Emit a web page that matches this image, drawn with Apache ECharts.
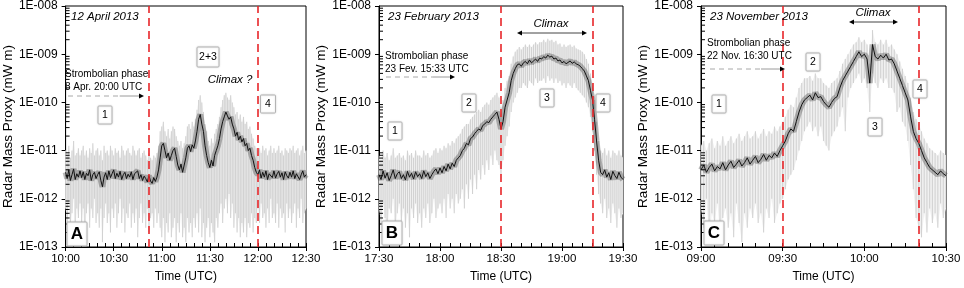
<!DOCTYPE html>
<html>
<head>
<meta charset="utf-8">
<title>Radar Mass Proxy</title>
<script src="https://cdn.jsdelivr.net/npm/echarts@6/dist/echarts.min.js"></script>
<style>
html,body{margin:0;padding:0;background:#fff;}
#main{width:964px;height:288px;}
</style>
</head>
<body>
<div id="main"></div>
<script>
// all values are log10 of the radar mass proxy (mW m), one per minute from the panel start
var FONT = '"Liberation Sans", Arial, sans-serif';

var startA = 10 * 60;   // 10:00
var midA = [-11.45,-11.58,-11.40,-11.62,-11.50,-11.38,-11.60,-11.48,-11.55,-11.42,
  -11.56,-11.44,-11.60,-11.47,-11.52,-11.40,-11.62,-11.50,-11.45,-11.58,
  -11.50,-11.44,-11.62,-11.75,-11.55,-11.46,-11.60,-11.42,-11.56,-11.48,
  -11.40,-11.58,-11.47,-11.55,-11.43,-11.60,-11.50,-11.45,-11.58,-11.49,
  -11.55,-11.44,-11.60,-11.48,-11.52,-11.42,-11.58,-11.50,-11.62,-11.53,
  -11.58,-11.65,-11.52,-11.63,-11.68,-11.56,-11.64,-11.55,-11.40,-11.15,
  -10.90,-10.85,-11.00,-11.15,-11.05,-11.20,-11.10,-11.00,-10.95,-11.12,
  -11.30,-11.40,-11.28,-11.45,-11.30,-11.15,-10.95,-10.90,-11.02,-10.88,
  -10.95,-10.80,-10.60,-10.35,-10.25,-10.45,-10.60,-10.90,-11.10,-11.25,
  -11.35,-11.20,-11.32,-11.10,-11.00,-10.90,-10.75,-10.55,-10.40,-10.30,
  -10.20,-10.28,-10.35,-10.30,-10.45,-10.55,-10.70,-10.62,-10.78,-10.70,
  -10.82,-10.75,-10.90,-10.85,-11.00,-10.95,-11.10,-11.20,-11.35,-11.45,
  -11.50,-11.40,-11.57,-11.45,-11.55,-11.42,-11.60,-11.48,-11.44,-11.56,
  -11.42,-11.57,-11.48,-11.43,-11.55,-11.46,-11.60,-11.44,-11.52,-11.57,
  -11.45,-11.55,-11.42,-11.58,-11.48,-11.45,-11.60,-11.50,-11.42,-11.55,-11.50];
var loA = [-12.2,-12.5,-12.1,-12.6,-12.3,-12.0,-12.7,-12.2,-12.4,-12.1,
  -12.5,-12.2,-12.8,-12.3,-12.1,-12.6,-12.2,-12.4,-12.0,-12.5,
  -12.3,-12.6,-12.2,-12.9,-12.4,-12.1,-12.5,-12.3,-12.7,-12.2,
  -12.4,-12.1,-12.6,-12.3,-12.0,-12.5,-12.2,-12.7,-12.3,-12.4,
  -12.1,-12.6,-12.3,-12.5,-12.2,-12.8,-12.4,-12.1,-12.5,-12.3,
  -12.6,-12.2,-12.7,-12.4,-12.3,-12.6,-12.2,-12.5,-12.3,-12.6,
  -12.8,-12.4,-12.9,-12.5,-12.7,-12.3,-12.8,-12.6,-12.4,-12.9,
  -12.5,-12.7,-12.3,-12.8,-12.6,-12.9,-12.4,-12.7,-12.5,-12.8,
  -12.4,-12.6,-12.3,-12.7,-12.2,-12.8,-12.5,-12.9,-12.6,-12.4,
  -12.8,-12.5,-12.7,-12.9,-12.4,-12.6,-12.3,-12.1,-12.5,-12.2,
  -12.0,-12.3,-11.9,-12.4,-12.1,-12.6,-12.3,-12.7,-12.4,-12.8,
  -12.5,-12.7,-12.4,-12.8,-12.5,-12.6,-12.3,-12.7,-12.4,-12.5,
  -12.2,-12.5,-12.1,-12.4,-12.3,-12.6,-12.2,-12.5,-12.0,-12.4,
  -12.3,-12.5,-12.1,-12.6,-12.2,-12.4,-12.3,-12.7,-12.1,-12.4,
  -12.2,-12.5,-12.3,-12.1,-12.6,-12.2,-12.4,-12.0,-12.5,-12.3,-12.2];
var hiA = [-11.0,-11.1,-10.9,-11.15,-11.0,-10.8,-11.1,-11.05,-10.95,-11.1,
  -11.0,-10.9,-11.1,-11.0,-11.15,-10.95,-11.05,-10.85,-11.1,-11.0,
  -10.95,-11.1,-11.0,-11.2,-10.9,-11.05,-11.0,-11.1,-10.9,-11.0,
  -11.1,-10.95,-11.05,-11.0,-11.15,-10.9,-11.0,-11.1,-11.0,-10.95,
  -11.05,-11.1,-10.9,-11.0,-11.1,-11.0,-10.95,-11.15,-11.05,-11.0,
  -11.1,-11.2,-11.05,-11.15,-11.2,-11.1,-11.15,-11.05,-10.9,-10.6,
  -10.5,-10.4,-10.6,-10.7,-10.55,-10.75,-10.6,-10.5,-10.55,-10.7,
  -10.8,-10.9,-10.8,-10.95,-10.85,-10.7,-10.5,-10.45,-10.55,-10.4,
  -10.5,-10.35,-10.15,-9.95,-9.85,-10.0,-10.2,-10.45,-10.6,-10.8,
  -10.9,-10.75,-10.85,-10.65,-10.55,-10.45,-10.3,-10.1,-9.95,-9.85,
  -9.8,-9.9,-9.95,-9.85,-10.0,-10.1,-10.25,-10.2,-10.35,-10.25,
  -10.4,-10.3,-10.45,-10.4,-10.55,-10.5,-10.65,-10.75,-10.9,-10.95,
  -11.0,-10.95,-11.05,-10.9,-11.0,-10.95,-11.1,-11.0,-10.9,-11.05,
  -10.95,-11.05,-11.0,-10.9,-11.05,-11.0,-11.1,-10.95,-11.0,-11.05,
  -10.95,-11.0,-10.9,-11.05,-11.0,-10.95,-11.1,-11.0,-10.9,-11.05,-11.0];
var phaseA = [52, 120];

var startB = 17 * 60 + 30;   // 17:30
var midB = [-11.50,-11.60,-11.42,-11.57,-11.46,-11.62,-11.52,-11.40,-11.58,-11.48,
  -11.44,-11.58,-11.50,-11.61,-11.43,-11.55,-11.47,-11.59,-11.44,-11.54,
  -11.48,-11.58,-11.42,-11.54,-11.46,-11.58,-11.50,-11.43,-11.38,-11.48,
  -11.36,-11.46,-11.33,-11.42,-11.28,-11.38,-11.26,-11.33,-11.20,-11.15,
  -11.10,-11.00,-10.95,-10.85,-10.88,-10.75,-10.72,-10.65,-10.60,-10.55,
  -10.58,-10.48,-10.45,-10.40,-10.42,-10.35,-10.30,-10.25,-10.20,-10.35,
  -10.55,-10.40,-10.10,-9.95,-9.80,-9.55,-9.40,-9.30,-9.22,-9.20,
  -9.25,-9.18,-9.15,-9.20,-9.12,-9.18,-9.14,-9.10,-9.15,-9.08,
  -9.10,-9.05,-9.08,-9.02,-9.06,-9.04,-9.10,-9.08,-9.14,-9.12,
  -9.18,-9.15,-9.20,-9.17,-9.14,-9.19,-9.16,-9.20,-9.22,-9.25,
  -9.30,-9.35,-9.45,-9.55,-9.75,-9.95,-10.35,-10.80,-11.20,-11.45,
  -11.50,-11.40,-11.55,-11.46,-11.60,-11.43,-11.52,-11.58,-11.45,-11.55,-11.60];
var loB = [-12.2,-12.5,-12.1,-12.4,-12.7,-12.2,-12.3,-12.0,-12.6,-12.3,
  -12.1,-12.5,-12.2,-12.6,-12.3,-12.8,-12.2,-12.4,-12.1,-12.5,
  -12.3,-12.6,-12.2,-12.4,-12.1,-12.5,-12.3,-12.0,-12.4,-12.2,
  -12.1,-12.3,-12.0,-12.4,-11.9,-12.2,-12.0,-12.3,-11.9,-12.1,
  -12.0,-11.8,-12.2,-11.7,-12.0,-11.6,-11.9,-11.5,-11.8,-11.4,
  -11.6,-11.3,-11.5,-11.2,-11.4,-11.1,-11.3,-11.0,-11.2,-11.3,
  -11.5,-11.2,-10.9,-10.7,-10.5,-10.2,-10.0,-9.9,-9.8,-9.7,
  -9.7,-9.6,-9.65,-9.7,-9.55,-9.6,-9.65,-9.5,-9.6,-9.55,
  -9.55,-9.5,-9.6,-9.45,-9.55,-9.5,-9.6,-9.5,-9.6,-9.55,
  -9.65,-9.6,-9.7,-9.6,-9.65,-9.7,-9.6,-9.7,-9.75,-9.8,
  -9.85,-9.9,-10.0,-10.1,-10.3,-10.6,-11.0,-11.5,-11.9,-12.1,
  -12.3,-12.0,-12.4,-12.2,-12.5,-12.1,-12.3,-12.6,-12.2,-12.4,-12.3];
var hiB = [-11.1,-11.2,-11.0,-11.15,-11.05,-11.2,-11.1,-10.95,-11.15,-11.1,
  -11.05,-11.15,-11.1,-11.2,-11.0,-11.1,-11.05,-11.15,-11.0,-11.1,
  -11.1,-11.15,-11.0,-11.1,-11.05,-11.15,-11.1,-11.0,-10.95,-11.05,
  -10.95,-11.0,-10.9,-10.95,-10.85,-10.9,-10.8,-10.85,-10.75,-10.7,
  -10.65,-10.55,-10.5,-10.45,-10.45,-10.35,-10.3,-10.25,-10.2,-10.15,
  -10.2,-10.1,-10.05,-10.0,-10.05,-9.95,-9.9,-9.85,-9.8,-9.9,
  -10.1,-9.95,-9.7,-9.55,-9.45,-9.2,-9.05,-8.95,-8.9,-8.85,
  -8.9,-8.85,-8.8,-8.85,-8.8,-8.85,-8.8,-8.75,-8.8,-8.75,
  -8.75,-8.7,-8.75,-8.68,-8.72,-8.7,-8.75,-8.72,-8.8,-8.78,
  -8.85,-8.8,-8.85,-8.82,-8.8,-8.85,-8.82,-8.88,-8.9,-8.92,
  -8.95,-9.0,-9.1,-9.2,-9.4,-9.6,-9.95,-10.4,-10.8,-11.0,
  -11.05,-10.95,-11.1,-11.0,-11.15,-11.0,-11.05,-11.1,-11.0,-11.1,-11.15];
var phaseB = [60, 105];

var startC = 9 * 60;   // 09:00
var midC = [-11.40,-11.30,-11.45,-11.35,-11.28,-11.42,-11.33,-11.38,-11.25,-11.40,
  -11.30,-11.22,-11.35,-11.28,-11.20,-11.32,-11.25,-11.15,-11.28,-11.20,
  -11.12,-11.25,-11.18,-11.08,-11.20,-11.10,-11.15,-11.05,-11.12,-11.00,
  -10.90,-10.80,-10.65,-10.55,-10.60,-10.40,-10.20,-10.05,-9.95,-9.90,
  -9.85,-9.95,-9.80,-9.90,-9.88,-9.98,-10.05,-10.10,-10.00,-9.92,
  -9.88,-9.70,-9.55,-9.45,-9.35,-9.25,-9.15,-9.05,-8.95,-9.05,
  -9.00,-9.10,-9.60,-8.80,-9.05,-9.10,-9.02,-9.08,-9.00,-9.12,
  -9.10,-9.20,-9.35,-9.50,-9.65,-9.80,-9.95,-10.30,-10.60,-10.75,
  -10.85,-11.00,-11.15,-11.25,-11.35,-11.40,-11.45,-11.50,-11.42,-11.48,-11.52];
var loC = [-12.2,-12.6,-12.0,-12.8,-12.3,-12.5,-12.1,-12.7,-12.4,-12.2,
  -12.6,-12.3,-12.8,-12.1,-12.5,-12.9,-12.3,-12.6,-12.2,-12.4,
  -12.1,-12.5,-12.3,-12.7,-12.2,-12.4,-12.0,-12.5,-12.3,-12.1,
  -12.0,-11.8,-11.6,-11.5,-11.4,-11.2,-11.0,-10.8,-10.6,-10.5,
  -10.4,-10.6,-10.5,-10.7,-10.5,-10.8,-10.9,-11.0,-10.7,-10.6,
  -10.5,-10.3,-10.1,-10.6,-9.9,-9.7,-9.6,-9.5,-9.4,-9.6,
  -9.5,-9.7,-10.2,-9.4,-9.6,-9.7,-9.5,-9.6,-9.5,-9.7,
  -9.7,-9.8,-10.2,-10.1,-10.4,-10.5,-10.8,-11.3,-11.8,-12.4,
  -12.6,-12.8,-12.3,-12.7,-12.2,-12.5,-12.3,-12.6,-12.1,-12.4,-12.2];
var hiC = [-10.9,-10.8,-11.0,-10.85,-10.75,-10.95,-10.8,-10.9,-10.7,-10.9,
  -10.8,-10.7,-10.85,-10.75,-10.65,-10.8,-10.7,-10.6,-10.75,-10.7,
  -10.6,-10.75,-10.65,-10.55,-10.7,-10.6,-10.65,-10.5,-10.6,-10.5,
  -10.4,-10.3,-10.15,-10.05,-10.1,-9.9,-9.7,-9.6,-9.5,-9.5,
  -9.45,-9.55,-9.4,-9.5,-9.5,-9.6,-9.65,-9.7,-9.6,-9.55,
  -9.5,-9.35,-9.2,-9.1,-9.0,-8.9,-8.8,-8.75,-8.65,-8.75,
  -8.7,-8.8,-9.2,-8.5,-8.75,-8.8,-8.7,-8.8,-8.7,-8.85,
  -8.8,-8.9,-9.0,-9.15,-9.3,-9.45,-9.6,-9.9,-10.2,-10.35,
  -10.45,-10.6,-10.75,-10.85,-10.95,-11.0,-11.05,-11.1,-11.0,-11.05,-11.1];
var phaseC = [30, 80];

var decades = [1e-13, 1e-12, 1e-11, 1e-10, 1e-9];
var minorSteps = [2, 3, 4, 5, 6, 7, 8, 9];

var panels = [
  {start: startA, len: 150, mid: midA, lo: loA, hi: hiA, phase: phaseA, grid: {left: 61, top: 6, width: 245, height: 242}},
  {start: startB, len: 120, mid: midB, lo: loB, hi: hiB, phase: phaseB, grid: {left: 379, top: 6, width: 244, height: 242}},
  {start: startC, len: 90, mid: midC, lo: loC, hi: hiC, phase: phaseC, grid: {left: 701, top: 6, width: 245, height: 242}}
];

function toPts(arr) {
  return arr.map(function (v, i) { return [i, Math.pow(10, v)]; });
}
function toRanges(lo, hi) {
  return lo.map(function (v, i) { return [i, Math.pow(10, v), Math.pow(10, hi[i])]; });
}
function hhmm(start) {
  return function (v) {
    var m = start + v;
    var h = Math.floor(m / 60), mm = m % 60;
    return (h < 10 ? '0' : '') + h + ':' + (mm < 10 ? '0' : '') + mm;
  };
}
function expLabel(v) {
  var e = Math.round(Math.log10(v));
  var n = String(-e);
  return '1E-0' + (n.length < 2 ? '0' + n : n);
}

function bandItem(params, api) {
  var i = params.dataIndexInside;
  if (i >= params.dataInsideLength - 1) return;
  var x0 = api.value(0), x1 = api.value(0, i + 1);
  var pts = [
    api.coord([x0, api.value(2)]), api.coord([x1, api.value(2, i + 1)]),
    api.coord([x1, api.value(1, i + 1)]), api.coord([x0, api.value(1)])
  ];
  return {type: 'polygon', shape: {points: pts}, style: {fill: '#f1f1f1'}};
}
function spikeItem(params, api) {
  var a = api.coord([api.value(0), api.value(1)]);
  var b = api.coord([api.value(0), api.value(2)]);
  return {type: 'line', shape: {x1: a[0], y1: a[1], x2: b[0], y2: b[1]},
    style: {stroke: '#d2d2d2', lineWidth: 1.1}};
}
// log minor ticks on the inner side of the y axis (2..9 within each decade)
function minorTickItem(params, api) {
  var d = api.value(0), x0 = api.value(1);
  var kids = minorSteps.map(function (k) {
    var p = api.coord([x0, d * k]);
    return {type: 'line', shape: {x1: p[0], y1: p[1], x2: p[0] + 4, y2: p[1]}, style: {stroke: '#000', lineWidth: 1}};
  });
  return {type: 'group', children: kids};
}

// annotation helpers (pixel positions)
function txt(x, y, s, o) {
  o = o || {};
  return {type: 'text', x: x, y: y, z: 100, silent: true, style: {
    text: s, fill: '#000', fontFamily: FONT, fontSize: o.size || 10,
    fontStyle: o.italic ? 'italic' : 'normal', fontWeight: o.bold ? 'bold' : 'normal',
    align: o.align || 'left', verticalAlign: 'middle'}};
}
function box(cx, cy, s, w, h, o) {
  o = o || {};
  return [
    {type: 'rect', z: 99, silent: true, shape: {x: cx - w / 2, y: cy - h / 2, width: w, height: h, r: 1},
      style: {fill: '#fff', stroke: '#b4b4b4', lineWidth: 1, shadowBlur: 2, shadowColor: 'rgba(0,0,0,0.15)'}},
    txt(cx, cy + 0.5, s, {size: o.size || 10.5, bold: o.bold, align: 'center'})
  ];
}
function head(x, y, dir) {
  return {type: 'polygon', z: 100, silent: true, shape: {points: [[x, y], [x - 5 * dir, y - 2.5], [x - 5 * dir, y + 2.5]]},
    style: {fill: '#000'}};
}
function stromArrow(x0, x1, y) {
  var xm = x0 + (x1 - x0) * 0.68;
  return [
    {type: 'line', z: 100, silent: true, shape: {x1: x0, y1: y, x2: xm, y2: y}, style: {stroke: '#a8a8a8', lineWidth: 1, lineDash: [5, 4]}},
    {type: 'line', z: 100, silent: true, shape: {x1: xm, y1: y, x2: x1 - 4, y2: y}, style: {stroke: '#9a9a9a', lineWidth: 1}},
    head(x1, y, 1)
  ];
}
function climaxArrow(x0, x1, y) {
  return [
    {type: 'line', z: 100, silent: true, shape: {x1: x0 + 4, y1: y, x2: x1 - 4, y2: y}, style: {stroke: '#444', lineWidth: 1}},
    head(x0, y, -1), head(x1, y, 1)
  ];
}

function initChart() {
  var myChart = echarts.init(document.getElementById('main'), null, {renderer: 'canvas'});
  var grids = [], xAxes = [], yAxes = [], series = [];

  panels.forEach(function (p, gi) {
    grids.push(Object.assign({show: true, borderColor: '#000', borderWidth: 1, backgroundColor: 'transparent'}, p.grid));
    var fmt = hhmm(p.start);
    xAxes.push({
      gridIndex: gi, type: 'value', min: 0, max: p.len, interval: 30, position: 'bottom',
      axisLine: {lineStyle: {color: '#000', width: 1}},
      axisTick: {length: 4, lineStyle: {color: '#000'}},
      axisLabel: {formatter: fmt, color: '#000', fontSize: 11.5, fontFamily: FONT, margin: 6},
      splitLine: {show: false},
      name: 'Time (UTC)', nameLocation: 'middle', nameGap: 24,
      nameTextStyle: {color: '#000', fontSize: 12, fontFamily: FONT}
    });
    // second x axis only carries the 5-minute ticks on the inner side
    xAxes.push({
      gridIndex: gi, type: 'value', min: 0, max: p.len, interval: 5, position: 'bottom',
      axisLine: {show: false}, axisLabel: {show: false},
      axisTick: {show: true, inside: true, length: 4, lineStyle: {color: '#000'}},
      splitLine: {show: false}
    });
    yAxes.push({
      gridIndex: gi, type: 'log', logBase: 10, min: 1e-13, max: 1e-8, splitNumber: 5, position: 'left',
      axisLine: {show: true, lineStyle: {color: '#000', width: 1}},
      axisTick: {show: true, length: 4, lineStyle: {color: '#000'}},
      axisLabel: {formatter: expLabel, color: '#000', fontSize: 12, fontFamily: FONT, margin: 8},
      splitLine: {show: false},
      name: 'Radar Mass Proxy (mW m)', nameLocation: 'middle', nameGap: 47, nameRotate: 90,
      nameTextStyle: {color: '#000', fontSize: 13.5, fontFamily: FONT}
    });

    var xi = gi * 2, yi = gi;
    var rng = toRanges(p.lo, p.hi);
    series.push({type: 'custom', xAxisIndex: xi, yAxisIndex: yi, renderItem: bandItem, data: rng,
      encode: {x: 0, y: [1, 2]}, clip: true, silent: true, z: 1});
    series.push({type: 'custom', xAxisIndex: xi, yAxisIndex: yi, renderItem: spikeItem, data: rng,
      encode: {x: 0, y: [1, 2]}, clip: true, silent: true, z: 2});
    series.push({type: 'line', xAxisIndex: xi, yAxisIndex: yi, data: toPts(p.mid), symbol: 'none',
      lineStyle: {color: 'rgba(60,60,60,0.35)', width: 6}, silent: true, z: 3});
    series.push({type: 'line', xAxisIndex: xi, yAxisIndex: yi, data: toPts(p.mid), symbol: 'none',
      lineStyle: {color: '#111', width: 1}, silent: true, z: 4,
      markLine: {
        silent: true, symbol: ['none', 'none'], label: {show: false},
        lineStyle: {color: '#e8262a', type: [8, 5], width: 1.6},
        data: p.phase.map(function (t) { return {xAxis: t}; })
      }});
    series.push({type: 'custom', xAxisIndex: xi, yAxisIndex: yi, renderItem: minorTickItem,
      data: decades.map(function (d) { return [d, 0]; }),
      encode: {x: 1, y: 0}, clip: false, silent: true, z: 5});
  });

  // text annotations
  var g = [];
  g.push(txt(71, 17, '12 April 2013', {size: 11.5, italic: true}));
  g.push(txt(65, 74, 'Strombolian phase'));
  g.push(txt(65, 87, '8 Apr. 20:00 UTC'));
  g = g.concat(stromArrow(68, 144, 96));
  g = g.concat(box(105, 115, '1', 14, 18));
  g = g.concat(box(208, 57, '2+3', 22, 20));
  g.push(txt(230, 80, 'Climax ?', {size: 11.5, italic: true, align: 'center'}));
  g = g.concat(box(268, 104, '4', 15, 18));
  g = g.concat(box(77, 234, 'A', 20, 24, {size: 17, bold: true}));

  g.push(txt(388, 17, '23 February 2013', {size: 11.5, italic: true}));
  g.push(txt(551, 24, 'Climax', {size: 11.5, italic: true, align: 'center'}));
  g = g.concat(climaxArrow(517, 587, 33));
  g.push(txt(385, 56, 'Strombolian phase'));
  g.push(txt(385, 69, '23 Fev. 15:33 UTC'));
  g = g.concat(stromArrow(386, 455, 77));
  g = g.concat(box(395, 131, '1', 14, 18));
  g = g.concat(box(469, 103, '2', 14, 18));
  g = g.concat(box(547, 98, '3', 14, 18));
  g = g.concat(box(603, 103, '4', 14, 18));
  g = g.concat(box(392, 233, 'B', 20, 24, {size: 17, bold: true}));

  g.push(txt(710, 17, '23 November 2013', {size: 11.5, italic: true}));
  g.push(txt(873, 13, 'Climax', {size: 11.5, italic: true, align: 'center'}));
  g = g.concat(climaxArrow(849, 898, 22));
  g.push(txt(707, 43, 'Strombolian phase'));
  g.push(txt(707, 56, '22 Nov. 16:30 UTC'));
  g = g.concat(stromArrow(710, 785, 69));
  g = g.concat(box(719, 104, '1', 14, 18));
  g = g.concat(box(813, 62, '2', 14, 18));
  g = g.concat(box(875, 127, '3', 14, 18));
  g = g.concat(box(920, 89, '4', 14, 18));
  g = g.concat(box(714, 233, 'C', 20, 24, {size: 17, bold: true}));

  var option = {
    animation: false,
    backgroundColor: '#fff',
    grid: grids,
    xAxis: xAxes,
    yAxis: yAxes,
    series: series,
    graphic: {elements: g}
  };
  myChart.setOption(option);
}

initChart();
</script>
</body>
</html>
